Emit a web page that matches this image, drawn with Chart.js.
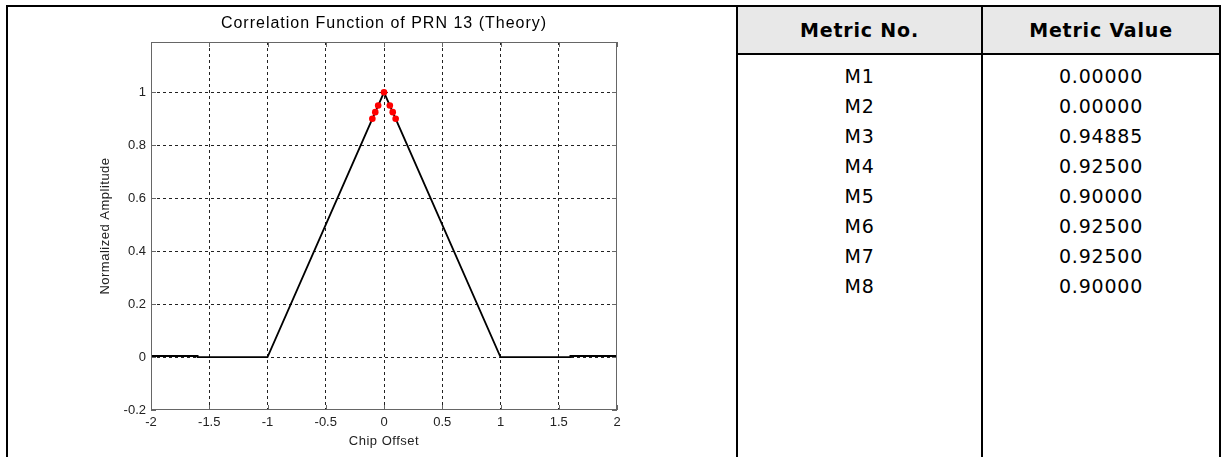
<!DOCTYPE html>
<html>
<head>
<meta charset="utf-8">
<script src="https://cdn.jsdelivr.net/npm/chart.js@4.4.0/dist/chart.umd.min.js"></script>
<style>
  html, body { margin: 0; padding: 0; background: #fff; }
  body { width: 1221px; height: 457px; position: relative; overflow: hidden; }
  #corr { position: absolute; left: 0; top: 0; }
  .rule { position: absolute; background: #000; }
  #metricHead { position: absolute; left: 738px; top: 7px; width: 481px; height: 46px; background: #e8e8e8; }
  .cell { position: absolute; text-align: center; font-family: "DejaVu Sans", sans-serif; font-size: 19px; letter-spacing: 0.8px; color: #000; }
  .cell.head { font-weight: bold; }
</style>
</head>
<body>
<canvas id="corr" width="736" height="457"></canvas>
<div id="metricHead"></div>
<div id="metricTable"></div>

<script>
// correlation curve vertices (chip offset vs normalized amplitude)
const chipOffset = [-2, -1.6, -1.6, -1, 0, 1, 1.6, 1.6, 2];
const amplitude  = [0.004, 0.004, 0, 0, 1, 0, 0, 0.004, 0.004];

// correlator taps shown in red
const tapOffset = [-0.1, -0.075, -0.05, 0, 0.05, 0.075, 0.1];
const tapAmp    = [0.9, 0.925, 0.95, 1, 0.95, 0.925, 0.9];

const xTicks = [-2, -1.5, -1, -0.5, 0, 0.5, 1, 1.5, 2];
const yTicks = [-0.2, 0, 0.2, 0.4, 0.6, 0.8, 1];

// metric table
const metricNames  = ["M1", "M2", "M3", "M4", "M5", "M6", "M7", "M8"];
const metricValues = ["0.00000", "0.00000", "0.94885", "0.92500", "0.90000", "0.92500", "0.92500", "0.90000"];

const TICK_FONT = { family: "Liberation Sans, Arial, sans-serif", size: 13 };

// matlab style box, inward ticks and text labels
const axesBox = {
  id: "axesBox",
  afterDatasetsDraw(chart) {
    const { ctx, chartArea: a, scales: { x, y } } = chart;
    ctx.save();
    ctx.strokeStyle = "#666";
    ctx.lineWidth = 1;
    ctx.strokeRect(a.left + 0.5, a.top + 0.5, a.right - a.left - 1, a.bottom - a.top - 1);
    ctx.beginPath();
    xTicks.forEach(v => {
      const px = Math.round(x.getPixelForValue(v)) + 0.5;
      ctx.moveTo(px, a.bottom); ctx.lineTo(px, a.bottom - 5);
      ctx.moveTo(px, a.top); ctx.lineTo(px, a.top + 5);
    });
    yTicks.forEach(v => {
      const py = Math.round(y.getPixelForValue(v)) + 0.5;
      ctx.moveTo(a.left, py); ctx.lineTo(a.left + 5, py);
      ctx.moveTo(a.right, py); ctx.lineTo(a.right - 5, py);
    });
    ctx.stroke();
    ctx.restore();
  },
  afterDraw(chart) {
    const { ctx, chartArea: a } = chart;
    const cx = (a.left + a.right) / 2;
    ctx.save();
    ctx.fillStyle = "#000";
    ctx.textAlign = "center";
    ctx.textBaseline = "middle";
    ctx.letterSpacing = "1px";
    ctx.font = "16px 'Liberation Sans', Arial, sans-serif";
    ctx.fillText("Correlation Function of PRN 13 (Theory)", cx, 24);
    ctx.letterSpacing = "0.5px";
    ctx.fillStyle = "#222";
    ctx.font = "13px 'Liberation Sans', Arial, sans-serif";
    ctx.fillText("Chip Offset", cx, a.bottom + 31);
    ctx.translate(105, (a.top + a.bottom) / 2);
    ctx.rotate(-Math.PI / 2);
    ctx.fillText("Normalized Amplitude", 0, 0);
    ctx.restore();
  }
};

const isEdge = (c, lo, hi) => c.tick && (c.tick.value <= lo || c.tick.value >= hi);

new Chart(document.getElementById("corr").getContext("2d"), {
  type: "scatter",
  data: {
    datasets: [
      {
        data: tapOffset.map((v, i) => ({ x: v, y: tapAmp[i] })),
        showLine: false,
        pointRadius: 3.3,
        pointBackgroundColor: "#ff0000",
        pointBorderColor: "#ff0000",
        pointBorderWidth: 0,
      },
      {
        data: chipOffset.map((v, i) => ({ x: v, y: amplitude[i] })),
        showLine: true,
        borderColor: "#000",
        borderWidth: 1.8,
        pointRadius: 0,
        tension: 0,
      },
    ],
  },
  options: {
    responsive: false,
    animation: false,
    events: [],
    layout: { padding: { left: 0, right: 119, top: 42, bottom: 0 } },
    plugins: { legend: { display: false }, tooltip: { enabled: false } },
    scales: {
      x: {
        type: "linear",
        min: -2,
        max: 2,
        afterBuildTicks: s => { s.ticks = xTicks.map(v => ({ value: v })); },
        afterFit: s => { s.height = 47; },
        grid: { color: c => isEdge(c, -2, 2) ? "rgba(0,0,0,0)" : "#222", lineWidth: 1, drawTicks: false },
        border: { display: false, dash: [3, 3] },
        ticks: { padding: 5, font: TICK_FONT, color: "#222", maxRotation: 0, autoSkip: false, callback: v => String(v) },
      },
      y: {
        type: "linear",
        min: -0.2,
        max: 1.19,
        afterBuildTicks: s => { s.ticks = yTicks.map(v => ({ value: v })); },
        afterFit: s => { s.width = 151; },
        grid: { color: c => isEdge(c, -0.2, 1.19) ? "rgba(0,0,0,0)" : "#222", lineWidth: 1, drawTicks: false },
        border: { display: false, dash: [3, 3] },
        ticks: { padding: 5, font: TICK_FONT, color: "#222", autoSkip: false, callback: v => String(v) },
      },
    },
  },
  plugins: [axesBox],
});

// table frame and cells
(function buildTable() {
  const host = document.getElementById("metricTable");
  const rule = (l, t, w, h) => {
    const d = document.createElement("div");
    d.className = "rule";
    Object.assign(d.style, { left: l + "px", top: t + "px", width: w + "px", height: h + "px" });
    host.appendChild(d);
  };
  const cell = (text, l, w, t, h, head) => {
    const d = document.createElement("div");
    d.className = "cell" + (head ? " head" : "");
    d.textContent = text;
    Object.assign(d.style, { left: l + "px", top: t + "px", width: w + "px", height: h + "px", lineHeight: h + "px" });
    host.appendChild(d);
  };
  rule(6, 5, 1215, 2);     // top edge
  rule(6, 5, 2, 452);      // left edge
  rule(736, 5, 2, 452);    // chart / table divider
  rule(981, 5, 2, 452);    // column divider
  rule(1219, 5, 2, 452);   // right edge
  rule(736, 53, 485, 2);   // header rule

  cell("Metric No.", 738, 243, 7, 46, true);
  cell("Metric Value", 983, 236, 7, 46, true);
  metricNames.forEach((name, i) => {
    const top = 61 + i * 30;
    cell(name, 738, 243, top, 30, false);
    cell(metricValues[i], 983, 236, top, 30, false);
  });
})();
</script>
</body>
</html>
